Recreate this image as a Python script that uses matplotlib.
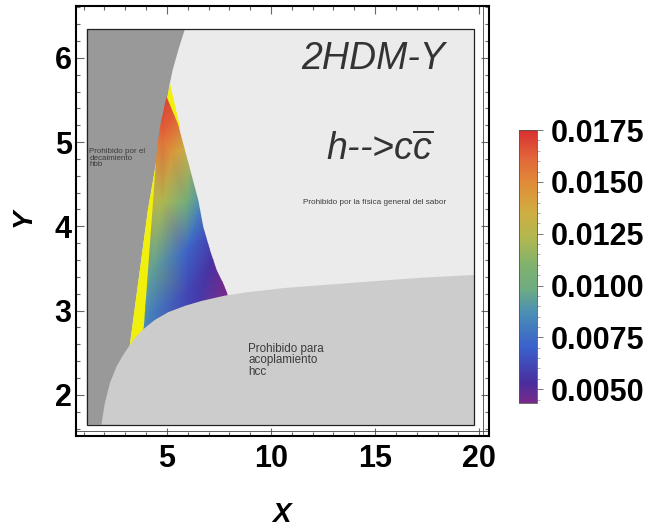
import numpy as np
import matplotlib
matplotlib.use("Agg")
import matplotlib.pyplot as plt
import matplotlib.tri as mtri
from matplotlib.colors import LinearSegmentedColormap, Normalize
from matplotlib.cm import ScalarMappable
from matplotlib.patches import Polygon, Rectangle
from matplotlib.ticker import MultipleLocator

plt.rcParams['font.family'] = ['Liberation Sans', 'DejaVu Sans']
plt.rcParams['mathtext.fontset'] = 'custom'
plt.rcParams['mathtext.it'] = 'Liberation Sans:italic'
plt.rcParams['mathtext.rm'] = 'Liberation Sans'

# plot window of the embedded region plot
box_x = [1.154, 19.76]
box_y = [1.644, 6.342]

# boundary of the "hbb" excluded region (dark gray, left)
hbb_x = [1.154, 5.865, 5.58, 5.274, 5.144, 4.087, 3.22, 2.71, 1.154]
hbb_y = [6.342, 6.342, 6.12, 5.855, 5.70, 4.195, 2.593, 1.644, 1.644]

# lower boundary of the allowed band (hcc coupling)
hcc_x = [1.85, 2.019, 2.260, 2.582, 2.899, 3.173, 3.462, 3.861, 4.423, 5.063,
         5.865, 6.668, 7.788, 8.75, 10.67, 13.89, 17.07, 19.76]
hcc_y = [1.644, 1.902, 2.139, 2.336, 2.474, 2.573, 2.673, 2.779, 2.890, 2.981,
         3.056, 3.115, 3.178, 3.214, 3.269, 3.329, 3.388, 3.423]

# thin yellow band next to the allowed region
band_x = [5.144, 5.625, 4.5, 2.9, 3.22, 4.087]
band_y = [5.70, 5.181, 2.5, 2.02, 2.593, 4.195]

# allowed region outline
allowed_x = [4.986, 5.543, 6.505, 6.745, 7.067, 7.389, 7.692, 7.885, 8.1, 5.0,
             3.8, 3.894, 4.341, 4.505, 4.663]
allowed_y = [5.539, 5.203, 4.313, 3.996, 3.720, 3.483, 3.329, 3.215, 3.0, 2.7,
             2.6, 2.810, 4.313, 4.871, 5.179]

# values read at sample points inside / around the allowed region
smp_x = [5.00, 4.70, 5.60, 4.81, 4.40, 5.22, 6.10, 4.15, 4.81, 5.95, 6.80, 4.33,
         5.95, 7.00, 7.07, 7.70, 4.18, 5.95, 3.70, 3.60, 6.00, 8.30, 8.20, 7.50]
smp_y = [5.75, 5.45, 5.40, 5.06, 4.90, 4.87, 4.95, 4.30, 4.28, 4.28, 4.35, 3.52,
         3.72, 3.90, 3.52, 3.28, 2.97, 3.21, 2.70, 2.30, 2.80, 2.90, 3.40, 3.75]
smp_v = [0.0178, 0.0172, 0.0165, 0.0160, 0.0150, 0.0145, 0.0130, 0.0128, 0.0122,
         0.0100, 0.0085, 0.0095, 0.0072, 0.0063, 0.0055, 0.0045, 0.0082, 0.0062,
         0.0085, 0.0085, 0.0060, 0.0043, 0.0043, 0.0050]

cb_ticks = [0.0050, 0.0075, 0.0100, 0.0125, 0.0150, 0.0175]
vmin, vmax = 0.00433, 0.0175

rainbow = LinearSegmentedColormap.from_list('rainbow_mm', [
    (0.0, '#792A8A'), (0.07, '#4A2D9C'), (0.2, '#3B5FCB'), (0.33, '#4A8FB6'),
    (0.42, '#6FAC80'), (0.5, '#7DB16E'), (0.6, '#AEB851'), (0.7, '#D0AE42'),
    (0.8, '#E08E38'), (0.9, '#E2653A'), (1.0, '#D83030')])
norm = Normalize(vmin=vmin, vmax=vmax)

fig = plt.figure(figsize=(6.48, 5.29), dpi=100)
ax = fig.add_axes([0.117, 0.176, 0.638, 0.813])

ax.add_patch(Rectangle((box_x[0], box_y[0]), box_x[1] - box_x[0], box_y[1] - box_y[0],
                       facecolor='#EBEBEB', edgecolor='none', zorder=1))
ax.fill(hbb_x, hbb_y, color='#999999', lw=0, zorder=2)
ax.fill(band_x, band_y, color='#F0F00C', lw=0, zorder=3)

clip = Polygon(np.column_stack([allowed_x, allowed_y]), closed=True,
               facecolor='none', edgecolor='none', zorder=4)
ax.add_patch(clip)
tri = mtri.Triangulation(smp_x, smp_y)
tc = ax.tripcolor(tri, smp_v, shading='gouraud', cmap=rainbow, norm=norm, zorder=4)
tc.set_clip_path(clip)

ax.fill(hcc_x + [box_x[1]], hcc_y + [box_y[0]], color='#CCCCCC', lw=0, zorder=5)
ax.add_patch(Rectangle((box_x[0], box_y[0]), box_x[1] - box_x[0], box_y[1] - box_y[0],
                       facecolor='none', edgecolor='#222222', lw=0.9, zorder=6))

txt = '#3C3C3C'
ax.text(14.9, 5.98, '2HDM-Y', fontsize=27, style='italic', color='#333333',
        ha='center', va='center', zorder=7)
ax.text(15.2, 4.91, r'h-->c$\overline{\mathit{c}}$', fontsize=27, style='italic',
        color='#333333', ha='center', va='center', zorder=7)
ax.text(14.99, 4.28, 'Prohibido por la física general del sabor', fontsize=5.85,
        color=txt, ha='center', va='center', zorder=7)
ax.text(1.28, 4.93, 'Prohibido por el\ndecaimiento\nhbb', fontsize=5.8, color=txt,
        ha='left', va='top', linespacing=0.95, zorder=7)
ax.text(8.9, 2.62, 'Prohibido para\nacoplamiento\nhcc', fontsize=8.4, color=txt,
        ha='left', va='top', linespacing=0.95, zorder=7)

ax.set_xlim(0.625, 20.48)
ax.set_ylim(1.513, 6.617)
ax.xaxis.set_major_locator(MultipleLocator(5))
ax.xaxis.set_minor_locator(MultipleLocator(1))
ax.yaxis.set_major_locator(MultipleLocator(1))
ax.yaxis.set_minor_locator(MultipleLocator(0.2))
ax.tick_params(which='both', direction='in', top=True, right=True, color='#666666', width=0.8)
ax.tick_params(which='major', length=6)
ax.tick_params(which='minor', length=3)
ax.tick_params(axis='x', pad=6, labelsize=22)
ax.tick_params(axis='y', pad=3, labelsize=22)
for lab in ax.get_xticklabels() + ax.get_yticklabels():
    lab.set_fontweight('bold')
for sp in ax.spines.values():
    sp.set_linewidth(1.5)
ax.plot([0.0, 1.0], [0.012, 0.012], transform=ax.transAxes, color='#444444', lw=0.6, clip_on=False)
ax.plot([0.985, 0.985], [0.0, 1.0], transform=ax.transAxes, color='#444444', lw=0.6, clip_on=False)

fig.text(0.435, 0.026, 'X', fontsize=20, fontweight='bold', style='italic',
         ha='center', va='center')
fig.text(0.037, 0.588, 'Y', fontsize=20, fontweight='bold', style='italic',
         ha='center', va='center', rotation=90)

cax = fig.add_axes([0.801, 0.238, 0.028, 0.516])
cb = fig.colorbar(ScalarMappable(norm=norm, cmap=rainbow), cax=cax)
cb.set_ticks(cb_ticks)
cb.set_ticklabels(['%.4f' % t for t in cb_ticks])
cb.outline.set_linewidth(0.6)
cb.outline.set_edgecolor('#555555')
cax.yaxis.set_minor_locator(MultipleLocator(0.0005))
cax.tick_params(which='major', length=4, width=0.7, color='#777777', pad=6, labelsize=22)
cax.tick_params(which='minor', length=2, width=0.5, color='#999999')
for lab in cax.get_yticklabels():
    lab.set_fontweight('bold')

fig.savefig('out.png', dpi=100)
